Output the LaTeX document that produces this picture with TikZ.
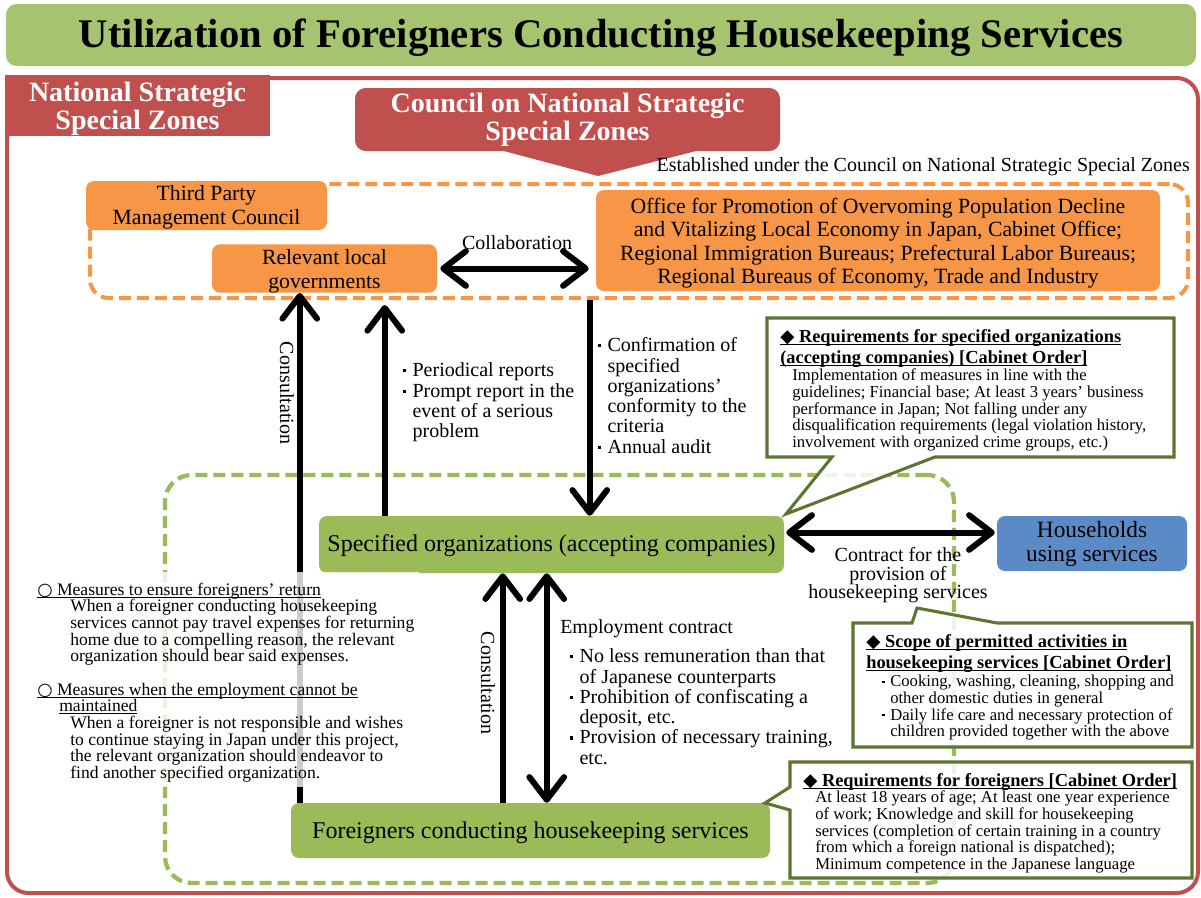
\documentclass[tikz,border=0pt]{standalone}
\usepackage{fontspec}
\setmainfont{Liberation Serif}
\newfontfamily\symf{DejaVu Sans}
\usetikzlibrary{arrows.meta,fit,calc}
\definecolor{tgreen}{HTML}{A6C36F}
\definecolor{bgreen}{HTML}{9BBB59}
\definecolor{orng}{HTML}{F79646}
\definecolor{redz}{HTML}{C0504D}
\definecolor{blu}{HTML}{5B8BC7}
\definecolor{olive}{HTML}{5E7532}
\newcommand\fs[2]{\fontsize{#1}{#2}\selectfont\lineskiplimit=-20pt\relax}
\newcommand\bul{\makebox[7pt][l]{\rule[3.3pt]{2.3pt}{2.3pt}}}
\newcommand\sbul{\makebox[6pt][l]{\rule[2.7pt]{1.9pt}{1.9pt}}}
\newcommand\dia{{\symf ◆}}
\newcommand\wcirc{{\symf ○}}
\newcommand\ulx[1]{\setbox0\hbox{#1}\rlap{\rule[-2pt]{\wd0}{0.7pt}}\box0}
\newcommand\dn[1]{\rule{0pt}{\dimexpr\fontcharht\font`l+#1\relax}}
\begin{document}
\begin{tikzpicture}[x=0.75pt,y=-0.75pt,
  every node/.style={inner sep=0pt},
  box/.style={inner sep=0pt, rounded corners=6pt, align=center},
  sz/.style 2 args={minimum width=#1, minimum height=#2},
  orangebox/.style={box, fill=orng, font=\fs{16.3}{17.6}},
  greenbox/.style={box, fill=bgreen, font=\fs{18}{20}},
  arr/.style={line width=4.5pt, -{Straight Barb[length=17pt,width=26pt,round]}},
  dblarr/.style={line width=4.5pt, {Straight Barb[length=17pt,width=26pt,round]}-{Straight Barb[length=17pt,width=26pt,round]}},
  lbl/.style={align=left, anchor=north west, font=\fs{15}{15.2}},
  callout/.style={draw=olive, line width=2.3pt, fill=white, fill opacity=0.85, line join=miter},
  chead/.style={align=left, anchor=north west, font=\bfseries\fs{13.8}{15.75}},
  cbody/.style={align=left, anchor=north west, font=\fs{12.5}{12.5}},
]
\useasboundingbox (0,0) rectangle (1201,897);
\fill[white] (0,0) rectangle (1201,897);

% title
\node[box, fill=tgreen, rounded corners=8pt, sz={892.5pt}{46.5pt}, font=\bfseries\fs{30.5}{32}] (title) at (601,35) {\dn{6pt}Utilization of Foreigners Conducting Housekeeping Services};

% red frame and tab
\node[draw=redz, line width=3pt, rounded corners=16pt, fit={(7,78)(1198,893)}] (frame) {};
\node[fill=redz, sz={198.75pt}{45.75pt}, align=center, text=white, font=\bfseries\fs{21}{21}] (nssz) at (137.5,105.5) {\dn{6pt}National Strategic\\Special Zones};

% council
\node[box, fill=redz, rounded corners=8pt, sz={318.75pt}{47.25pt}, text=white, font=\bfseries\fs{21}{21}] (council) at (567.5,119.5) {\dn{1.5pt}Council on National Strategic\\Special Zones};
\fill[redz] (500,150) -- (700,150) -- (598,176) -- cycle;
\node[anchor=base east, font=\fs{15}{16}] (estab) at (1190,171) {Established under the Council on National Strategic Special Zones};

% management (orange dashed) region
\node[draw=orng, line width=3pt, dash pattern=on 9pt off 4.5pt, rounded corners=14pt, fit={(90,184)(1188,298)}] (mgmt) {};
% green zone
\node[draw=bgreen, line width=3.2pt, dash pattern=on 9pt off 4.5pt, rounded corners=20pt, fit={(165,475)(954,883)}] (zone) {};

% orange boxes
\node[orangebox, sz={180.75pt}{36.75pt}] (tpmc) at (206.5,205.5) {\dn{3pt}Third Party\\Management Council};
\node[orangebox, sz={168.75pt}{35.25pt}] (rlg) at (324.5,268.5) {\dn{4.5pt}Relevant local\\governments};
\node[orangebox, sz={423pt}{75.75pt}] (office) at (878,240.5) {\dn{4.5pt}Office for Promotion of Overvoming Population Decline\\and Vitalizing Local Economy in Japan, Cabinet Office;\\Regional Immigration Bureaus; Prefectural Labor Bureaus;\\Regional Bureaus of Economy, Trade and Industry};

% green and blue boxes
\node[greenbox, sz={348.75pt}{42.75pt}] (sorg) at (551.5,544.5) {\dn{3pt}Specified organizations (accepting companies)};
\node[greenbox, sz={359.25pt}{41.25pt}] (fhs) at (530.5,830.5) {\dn{4.5pt}Foreigners conducting housekeeping services};
\node[box, fill=blu, sz={142.5pt}{41.25pt}, font=\fs{17.5}{18}] (hh) at (1092,543.5) {\dn{1.5pt}Households\\using services};

% collaboration
\path (rlg.east) ++(3,0) coordinate (k1);
\path (rlg.east -| office.west) ++(-7,0) coordinate (k2);
\draw[dblarr] (k1) -- (k2);
\node[font=\fs{15}{16}] (collab) at (517,243) {Collaboration};

% vertical arrows upper
\coordinate (c1) at ([xshift=6.75pt]fhs.north west);
\draw[arr] (c1) -- (c1 |- rlg.south);
\node[rotate=-90, font=\fs{15}{16}] (cons1) at (287,393) {Consultation};

\coordinate (c2) at ([xshift=49.5pt]sorg.north west);
\path (c2 |- mgmt.south) ++(0,5) coordinate (c2e);
\draw[arr] (c2) -- (c2e);
\node[lbl] (rep) at (403,356.6) {\rule{0pt}{15pt}\bul Periodical reports\\\bul Prompt report in the\\\hspace*{7pt}event of a serious\\\hspace*{7pt}problem};

\coordinate (c3) at ([xshift=203.25pt]sorg.north west);
\draw[arr] (c3 |- mgmt.south) -- (c3);
\node[lbl] (conf) at (598,331.6) {\rule{0pt}{15pt}\bul Confirmation of\\\hspace*{7pt}specified\\\hspace*{7pt}organizations’\\\hspace*{7pt}conformity to the\\\hspace*{7pt}criteria\\\bul Annual audit};

% contract
\path (sorg.east) ++(2,-12) coordinate (h1);
\path (hh.west |- h1) ++(-2,0) coordinate (h2);
\draw[dblarr] (h1) -- (h2);
\node[align=center, anchor=north, font=\fs{15}{13.9}] (contract) at (898,541.6) {\rule{0pt}{15pt}Contract for the\\provision of\\housekeeping services};

% lower arrows
\coordinate (c4) at ([xshift=159pt]fhs.north west);
\draw[arr] (c4) -- (c4 |- sorg.south);
\node[rotate=-90, font=\fs{15}{16}] (cons2) at (488,683) {Consultation};

\coordinate (c5) at ([xshift=192pt]fhs.north west);
\draw[dblarr] (c5) -- (c5 |- sorg.south);
\node[lbl] (emp) at (560,613.6) {\rule{0pt}{15pt}Employment contract};
\node[lbl] (empl) at (570,642.6) {\rule{0pt}{15pt}\bul No less remuneration than that\\\hspace*{7pt}of Japanese counterparts\\\bul Prohibition of confiscating a\\\hspace*{7pt}deposit, etc.\\\bul Provision of necessary training,\\\hspace*{7pt}etc.};

% left notes
\node[anchor=north west, align=left, inner sep=3.75pt, fill=white, fill opacity=0.8, text opacity=1, font=\fs{13.2}{12.5}] (notes) at (32,572.2) {\rule{0pt}{13.2pt}\ulx{\wcirc\ Measures to ensure foreigners’ return}\\
\hspace*{24.75pt}When a foreigner conducting housekeeping\\
\hspace*{24.75pt}services cannot pay travel expenses for returning\\
\hspace*{24.75pt}home due to a compelling reason, the relevant\\
\hspace*{24.75pt}organization should bear said expenses.\\
\mbox{}\\
\ulx{\wcirc\ Measures when the employment cannot be}\\
\hspace*{16.5pt}\ulx{maintained}\\
\hspace*{24.75pt}When a foreigner is not responsible and wishes\\
\hspace*{24.75pt}to continue staying in Japan under this project,\\
\hspace*{24.75pt}the relevant organization should endeavor to\\
\hspace*{24.75pt}find another specified organization.};

% callouts
\draw[callout] (767,318) -- (1174,318) -- (1174,457) -- (935,457) -- (786,514) -- (832,457) -- (767,457) -- cycle;
\node[chead] (h1t) at (780,323.6) {\rule{0pt}{13.8pt}\ulx{\dia\ Requirements for specified organizations}\\\ulx{(accepting companies) [Cabinet Order]}};
\node[cbody] (b1t) at (792,363.8) {\rule{0pt}{12.5pt}Implementation of measures in line with the\\guidelines; Financial base; At least 3 years’ business\\performance in Japan; Not falling under any\\disqualification requirements (legal violation history,\\involvement with organized crime groups, etc.)};

\draw[callout] (853,623) -- (912,623) -- (917,608) -- (997,623) -- (1192,623) -- (1192,747) -- (853,747) -- cycle;
\node[chead] (h2t) at (866,628.6) {\rule{0pt}{13.8pt}\ulx{\dia\ Scope of permitted activities in}\\\ulx{housekeeping services [Cabinet Order]}};
\node[cbody] (b2t) at (882,669.8) {\rule{0pt}{12.5pt}\sbul Cooking, washing, cleaning, shopping and\\\hspace*{6pt}other domestic duties in general\\\sbul Daily life care and necessary protection of\\\hspace*{6pt}children provided together with the above};

\draw[callout] (790,762) -- (1192,762) -- (1192,878) -- (790,878) -- (790,810) -- (765,803) -- (790,787) -- cycle;
\node[chead] (h3t) at (803,767.6) {\rule{0pt}{13.8pt}\ulx{\dia\ Requirements for foreigners [Cabinet Order]}};
\node[cbody] (b3t) at (815,785.8) {\rule{0pt}{12.5pt}At least 18 years of age; At least one year experience\\of work; Knowledge and skill for housekeeping\\services (completion of certain training in a country\\from which a foreign national is dispatched);\\Minimum competence in the Japanese language};
\end{tikzpicture}
\end{document}
